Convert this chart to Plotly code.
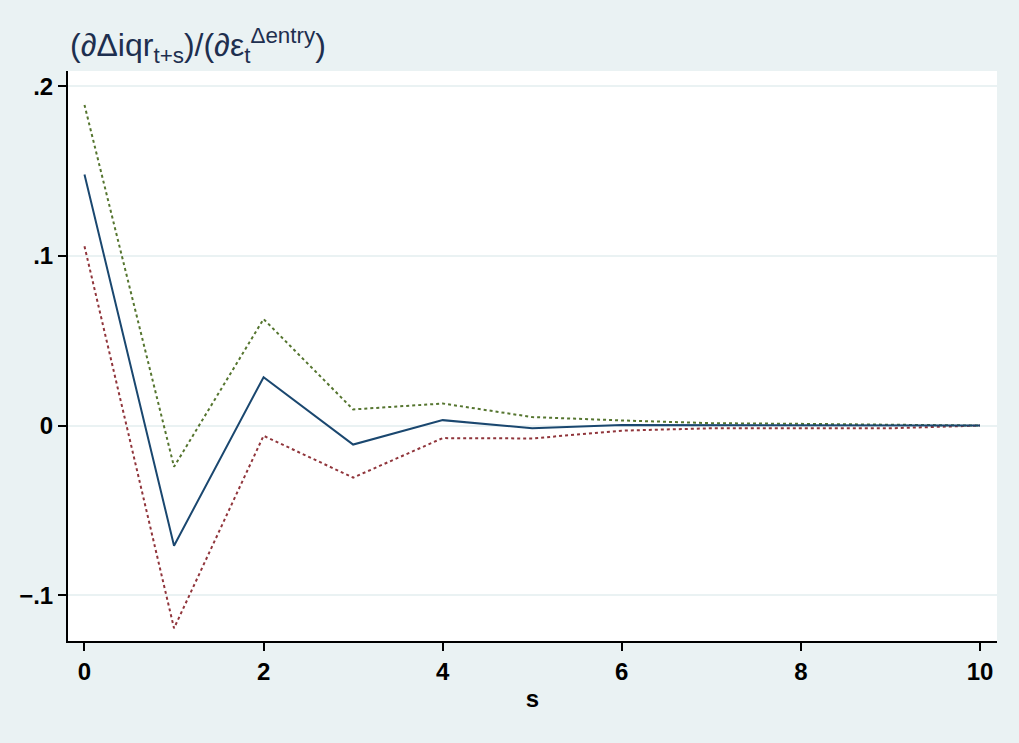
import plotly.graph_objects as go

s = [0, 1, 2, 3, 4, 5, 6, 7, 8, 9, 10]
irf = [0.148, -0.0708, 0.0285, -0.0112, 0.0032, -0.0016, 0.0004, 0.0004, 0.0003, 0.0002, 0.0]
upper = [0.189, -0.0243, 0.0628, 0.0095, 0.0130, 0.0050, 0.0030, 0.0014, 0.0010, 0.0004, 0.0]
lower = [0.1057, -0.1195, -0.0060, -0.0307, -0.0074, -0.0076, -0.0030, -0.0016, -0.0016, -0.0016, 0.0]

yticks = [-0.1, 0, 0.1, 0.2]
yticktext = ["\u2212.1", "0", ".1", ".2"]
xticks = [0, 2, 4, 6, 8, 10]

navy = "#1a476f"
maroon = "#90353b"
green = "#55752f"
bg = "#eaf2f3"

fig = go.Figure()
fig.add_trace(go.Scatter(x=s, y=upper, mode="lines", line=dict(color=green, width=2, dash="dot"), showlegend=False))
fig.add_trace(go.Scatter(x=s, y=lower, mode="lines", line=dict(color=maroon, width=2, dash="dot"), showlegend=False))
fig.add_trace(go.Scatter(x=s, y=irf, mode="lines", line=dict(color=navy, width=2), showlegend=False))

font_family = "Liberation Sans Narrow, Liberation Sans, Arial, sans-serif"

fig.update_layout(
    width=1019, height=743,
    paper_bgcolor=bg, plot_bgcolor="white",
    margin=dict(l=68, r=22, t=71, b=102),
    font=dict(family=font_family, color="black"),
    annotations=[dict(
        text="(∂Δiqr<sub>t+s</sub>)/(∂ε<sub>t</sub><sup>Δentry</sup>)",
        xref="paper", yref="paper", x=0.0, y=1.0, xanchor="left", yanchor="bottom",
        yshift=1, showarrow=False,
        font=dict(size=32, color="#1e2f4f", family=font_family),
    )],
)
fig.update_xaxes(
    range=[-0.184, 10.19], tickvals=xticks, ticks="outside", ticklen=8, tickwidth=2, tickcolor="black",
    showline=True, linecolor="black", linewidth=2, showgrid=False, zeroline=False,
    tickfont=dict(size=24, family=font_family, weight="bold"),
    title=dict(text="s", font=dict(size=24, family=font_family, weight="bold"), standoff=6),
)
fig.update_yaxes(
    range=[-0.127, 0.209], tickvals=yticks, ticktext=yticktext, ticks="outside", ticklen=8, tickwidth=2,
    tickcolor="black", showline=True, linecolor="black", linewidth=2, showgrid=True, gridcolor=bg,
    gridwidth=2, zeroline=False,
    tickfont=dict(size=24, family=font_family, weight="bold"),
)

fig.write_html("out.html", config={"displayModeBar": False},
               post_script="document.body.style.margin='0';")
